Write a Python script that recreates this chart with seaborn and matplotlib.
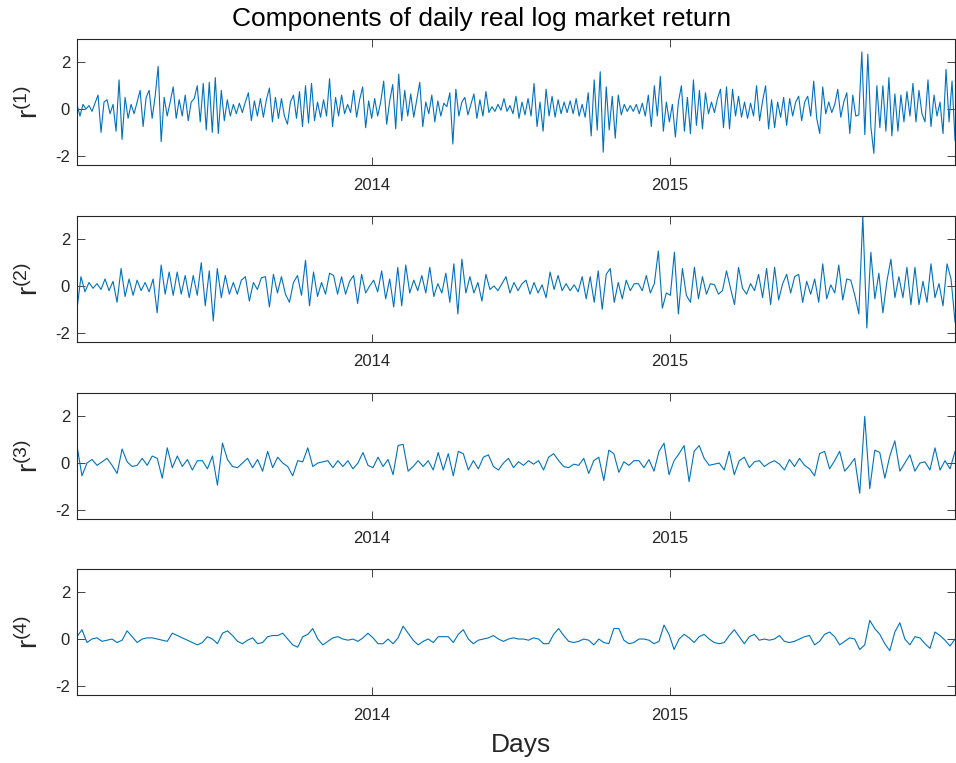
import numpy as np
import pandas as pd
import matplotlib
matplotlib.use("Agg")
import matplotlib.pyplot as plt
import seaborn as sns

# Decomposed daily real log market return, components r(1)..r(4)
r1 = [
    0.2, -0.3, 0.2, 0.0, 0.15, -0.1, 0.25, 0.6, -1.0, 0.3,
    0.4, -0.2, 0.2, -0.95, 1.25, -1.3, 0.5, -0.4, 0.2, -0.2,
    0.3, 0.8, -0.75, 0.5, 0.8, -0.4, 0.55, 1.83, -1.4, 0.5,
    -0.3, 0.3, 0.95,
    -0.4, 0.4, -0.3, 0.6, -0.5, 0.3, 0.45, 1.0, -0.55, 1.1,
    -0.9, 1.15, -1.0, 1.35, -1.05, 0.8, -0.5, 0.4, -0.3, 0.2,
    -0.2, 0.25, -0.15, 0.3, 0.7, -0.5, 0.35, -0.3, 0.45, -0.35,
    0.4, 0.9, -0.55, 0.5, -0.4, 0.45, -0.3, -0.65, 0.3, 0.6,
    -0.4, 0.75, -0.75, 1.0, -0.6, 1.1, -0.5, 0.3, -0.35, 0.4,
    -0.3, 1.3, -0.75, 0.5, -0.3, 0.6, -0.2, 0.2, -0.15, 0.8,
    -0.35, 0.4, 0.95, -0.8, 0.35, -0.4, 0.45,
    -0.3, 0.3, 1.2, -0.65, 0.35, 1.05, -0.85, 1.5, -0.5, 0.8,
    -0.3, 0.65, -0.35, 0.4, 1.15, -0.75, 0.3, -0.2, 0.6, -0.55,
    0.35, -0.3, 0.25, 0.1, 0.7, -1.5, 0.85, -0.3, 0.3, 0.5,
    -0.25, 0.2, 0.65, -0.4, 0.4, -0.3, 0.75, -0.15, 0.1, -0.1,
    0.2, -0.05, 0.45, -0.1, 0.15, -0.2, 0.55, -0.4, 0.3, -0.25,
    0.45, -0.3, 1.1, -0.75, 0.3, -0.95, 0.85, -0.3, 0.55, -0.35,
    0.4, -0.2, 0.3, -0.15, 0.35, -0.2, 0.45, -0.3, 0.2, -0.35,
    0.7, -1.15, 1.25, -0.9, 1.6, -1.85, 0.95, -0.9, 0.55, -1.25,
    0.6, -0.25, 0.2, -0.1, 0.15, -0.1, 0.2, -0.2, 0.25, -0.3,
    0.6, -0.75, 1.0, -0.3, 1.4, -0.95, 0.3, -0.55, 0.2,
    -1.2, 0.3, 1.0, -0.95, 0.5, -1.05, 1.25, -0.7, 0.8, -0.85,
    0.7, -0.2, 0.3, -0.15, 0.45, 0.85, -0.8, 0.95, -0.85, 0.85,
    -0.3, 0.55, -0.35, 0.3, -0.4, 0.25, -0.3, 1.0, -0.5, 0.35,
    1.0, -0.85, 0.4, -0.8, 0.3, -0.35, 0.5, -0.7, 0.45, -0.3,
    0.3, 0.55, -0.5, 0.3, 0.55, -0.3, 1.2, -0.4, -1.05, 0.95,
    -0.2, 0.3, -0.15, 0.2, 0.85, -0.35, 0.3, 0.7, -1.05, 0.6,
    -0.3, -0.25, 2.45, -1.1, 2.35, -0.75, -1.9, 1.0, -0.8, 1.0,
    -0.95, 1.35, -1.15, 0.65, -0.95, 0.6, -0.55, 0.75, -0.3, 1.1,
    -0.55, 0.8, -0.2, -0.55, 1.25, -0.75, 0.6, -0.3, 0.3, -1.05,
    1.7, -0.55, 1.2, -1.35,
]

r2 = [
    -1.0, 0.4, -0.25, 0.15, -0.1, 0.1, -0.15, 0.3, -0.2, 0.2,
    -0.7, 0.75, -0.45, 0.3, -0.4, 0.25, -0.2, 0.15, -0.25, 0.3,
    -1.15, 0.9, -0.35, 0.6, -0.4, 0.6, -0.35, 0.45, -0.5, 0.45,
    -0.4, 1.0, -0.85, 0.65, -1.5, 0.75, -0.5, 0.45, -0.35, 0.15,
    -0.35, 0.25, 0.4, -0.65, 0.15, -0.15, 0.35, 0.4, -0.9, 0.5,
    -0.3, 0.4, -0.35, -0.7, 0.15, 0.45, -0.4, 1.1, -0.85, 0.6,
    -0.45, 0.15, -0.35, 0.55, 0.45, -0.35, 0.4, -0.35, 0.2, 0.45,
    -0.75, 0.5, -0.3, 0.0, 0.25,
    -0.25, 0.65, -0.55, 0.3, -0.9, 0.8, -0.85, 0.9, -0.3, 0.25,
    -0.2, 0.45, -0.3, 0.8, -0.45, 0.1, -0.3, 0.55, -0.7, 0.95,
    -1.2, 1.15, -0.3, 0.4, -0.3, 0.15, -0.65, 0.5, -0.15, 0.0,
    -0.2, 0.1, 0.4, -0.3, 0.15, -0.2, 0.1, 0.25, -0.35, 0.15,
    -0.3, 0.05, -0.5, 0.6, -0.15, 0.45, -0.2, 0.1, -0.2, 0.05,
    -0.25, 0.4, -0.55, 0.4, -0.7, 0.65, -1.0, 0.5, 0.75, -0.7,
    0.15, -0.55, 0.25, -0.2, 0.1, 0.1, -0.2, 0.45, -0.3, 0.1,
    1.5, -0.95, -0.3, -0.4,
    1.45, -1.2, 0.75, -0.4, -0.7, 0.8, -0.55, 0.4, -0.35, 0.1,
    0.05, -0.35, -0.2, 0.65, -0.1, -0.8, 0.8, -0.1, -0.35, 0.1,
    -0.2, 0.5, -0.5, 0.75, -0.8, 0.8, -0.6, 0.1, 0.5, -0.3,
    0.4, 0.5, -0.7, 0.2, -0.35, 0.3, -0.7, 0.95, -0.55, 0.05,
    -0.3, 0.9, -0.6, 0.3, 0.25, -0.4, -1.2, 3.0, -1.8, 1.45,
    -0.55, 0.55, -1.15, 0.2, 1.15, -0.5, 0.4, -0.5, 0.8, -0.8,
    0.8, -0.8, 0.2, -0.7, 0.95, -0.5, 0.1, -0.85, 0.95, 0.3,
    -1.55,
]

r3 = [
    0.75, -0.55, 0.0, 0.15, -0.1, 0.05, 0.2, -0.1, -0.45, 0.6,
    0.05, -0.15, -0.1, 0.2, -0.1, 0.3, 0.2, -0.65, 0.65, -0.2,
    0.3, -0.15, 0.15, -0.3, 0.1, 0.1, -0.25, 0.3, -0.95, 0.85,
    0.15, -0.15, -0.2, 0.0, 0.2, -0.2, 0.15, -0.35, 0.5, -0.2,
    0.25, 0.0, -0.15, -0.55, 0.1, 0.05, 0.65, -0.15, 0.0, 0.05,
    0.1, -0.2, 0.1, -0.15, 0.1, -0.25, 0.0, 0.45, -0.1, -0.2,
    0.25, -0.15, 0.15, -0.5, 0.75, 0.8, -0.35, -0.15, 0.1, -0.15,
    0.1, -0.3, 0.45, -0.3, 0.4, -0.55, 0.5, 0.4, -0.3, 0.1,
    -0.25, 0.25, 0.35, -0.15, -0.3, 0.0, 0.2, -0.2,
    0.05, -0.1, 0.1, -0.05, 0.1, -0.3, 0.25, 0.4, 0.1, -0.15,
    -0.2, -0.05, -0.1, 0.2, -0.45, 0.1, 0.25, -0.75, 0.55, 0.4,
    -0.4, 0.05, -0.1, 0.1, 0.1, -0.2, 0.15, -0.35, 0.5, 0.85,
    -0.5, 0.1, 0.4, 0.75, -0.8, 0.5, 0.75, 0.2, -0.1, -0.05,
    0.0, -0.3, 0.5, -0.5, 0.1, 0.25, -0.2, 0.05, 0.1, -0.15,
    0.0, 0.1, -0.05, -0.3, 0.15, -0.15, 0.2, -0.1, -0.25, -0.55,
    0.4, 0.5, -0.25, 0.1, 0.5, -0.35, -0.1, 0.2, -1.3, 2.0,
    -1.1, 0.55, 0.45, -0.65, 0.3, 0.95, -0.35, 0.0, 0.35, -0.35,
    0.0, 0.05, -0.3, 0.65, -0.3, 0.1, -0.25, 0.5,
]

r4 = [
    0.1, 0.4, -0.15, 0.0, 0.05, -0.1, -0.05, 0.0, -0.15, -0.05,
    0.35, 0.1, -0.15, 0.0, 0.05, 0.05, 0.0, -0.05, -0.1, 0.25,
    0.15, 0.05, -0.05, -0.15, -0.25, -0.15, 0.1, 0.0, -0.2, 0.25,
    0.35, 0.15, -0.1, -0.2, -0.05, 0.05, -0.2, -0.15, 0.1, 0.15,
    0.15, 0.25, 0.0, -0.25, -0.35, 0.1, 0.2, 0.45, 0.0, -0.25,
    -0.1, 0.05, 0.1, 0.0, -0.05, 0.0, -0.1, 0.05, 0.25, 0.05,
    -0.2, -0.2, 0.0, -0.2, 0.05, 0.55, 0.25, -0.05, -0.25, -0.1,
    0.0, -0.15, 0.1, 0.1, 0.1, -0.15, 0.2, 0.4, 0.0, -0.2,
    -0.05, 0.0, 0.05, 0.15, 0.0, -0.1, 0.0, 0.05,
    0.0, 0.0, -0.05, 0.05, 0.0, -0.2, -0.2, 0.2, 0.45, 0.15,
    -0.1, -0.15, -0.1, 0.0, -0.05, -0.25, 0.0, -0.15, -0.2, 0.45,
    0.45, -0.05, -0.2, -0.15, 0.0, 0.0, -0.05, -0.2, -0.1, 0.6,
    0.2, -0.45, 0.0, 0.2, 0.05, -0.15, 0.1, 0.2, 0.0, -0.15,
    -0.2, -0.15, 0.15, 0.4, 0.1, -0.2, 0.1, 0.2, -0.05, 0.0,
    -0.05, 0.0, 0.15, -0.1, -0.15, -0.1, 0.0, 0.1, 0.15, -0.25,
    -0.1, 0.2, 0.3, 0.1, -0.25, -0.1, 0.05, 0.0, -0.45, -0.25,
    0.8, 0.45, 0.2, -0.2, -0.5, 0.3, 0.7, 0.0, -0.25, 0.1,
    0.05, -0.2, -0.4, 0.3, 0.15, -0.05, -0.3, 0.0,
]

components = [r1, r2, r3, r4]
component_tags = ["(1)", "(2)", "(3)", "(4)"]
year_labels = ["2014", "2015"]
value_ticks = [-2, 0, 2]
first_day, last_day = "2013-01-05", "2015-12-16"

sns.set_style("ticks")
plt.rcParams["font.family"] = ["Liberation Sans", "DejaVu Sans"]
plt.rcParams["axes.edgecolor"] = "#262626"
plt.rcParams["axes.linewidth"] = 0.8

ink = "#262626"
line_blue = "#0072BD"

fig = plt.figure(figsize=(9.56, 7.63), dpi=100)
panel_bottoms = [0.7837, 0.5518, 0.3198, 0.0891]

for values, tag, bottom in zip(components, component_tags, panel_bottoms):
    ax = fig.add_axes([0.0805, bottom, 0.9185, 0.1651])
    days = pd.date_range(first_day, last_day, periods=len(values))
    frame = pd.DataFrame({"day": days, "value": values})
    sns.lineplot(data=frame, x="day", y="value", ax=ax,
                 color=line_blue, linewidth=0.8)
    ax.set_xlim(days[0], days[-1])
    ax.set_ylim(-2.4, 3.0)
    ax.set_yticks(value_ticks)
    ax.set_yticklabels([str(v) for v in value_ticks])
    ax.set_xticks([pd.Timestamp(f"{y}-01-01") for y in year_labels])
    ax.set_xticklabels(year_labels)
    ax.tick_params(axis="both", direction="in", length=6, width=0.6,
                   top=True, right=True, labelsize=12,
                   color=ink, labelcolor=ink)
    ax.tick_params(axis="x", pad=9)
    ax.tick_params(axis="y", pad=5)
    for side in ax.spines.values():
        side.set_visible(True)
        side.set_color(ink)
        side.set_linewidth(0.8)
    ax.set_xlabel("")
    ax.set_ylabel(f"$\\mathregular{{r^{{{tag}}}}}$", fontsize=20, color=ink)
    ax.yaxis.set_label_coords(-0.037, 0.5)

fig.text(482 / 956, 1 - 19 / 763, "Components of daily real log market return",
         ha="center", va="center", fontsize=19, color="black")
fig.text(521 / 956, 1 - 745 / 763, "Days", ha="center", va="center",
         fontsize=19, color=ink)

fig.savefig("out.png", dpi=100)
